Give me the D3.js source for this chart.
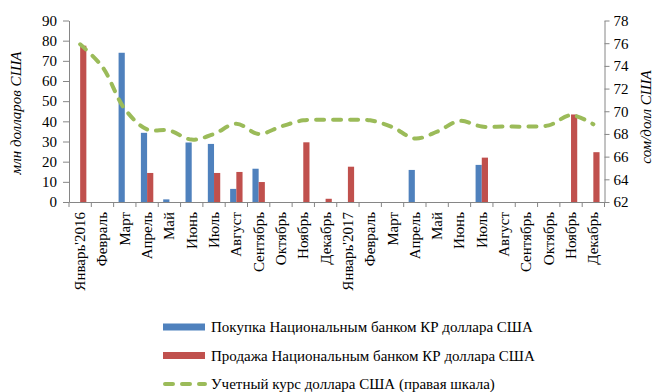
<!DOCTYPE html>
<html>
<head>
<meta charset="utf-8">
<script src="https://cdn.jsdelivr.net/npm/d3@7"></script>
<style>
  html, body { margin: 0; padding: 0; background: #fff; }
  svg { display: block; font-family: "Liberation Serif", "Times New Roman", serif; }
</style>
</head>
<body>
<svg id="chart" width="654" height="392"></svg>
<script>
// Monthly categories, Jan 2016 – Dec 2017
const months = [
  "Январь'2016", "Февраль", "Март", "Апрель", "Май", "Июнь", "Июль", "Август",
  "Сентябрь", "Октябрь", "Ноябрь", "Декабрь",
  "Январь'2017", "Февраль", "Март", "Апрель", "Май", "Июнь", "Июль", "Август",
  "Сентябрь", "Октябрь", "Ноябрь", "Декабрь"
];

// NBKR purchases of USD, mln USD
const purchases = [0, 0, 74, 34.3, 1.3, 29.5, 28.8, 6.5, 16.5, 0, 0, 0,
                   0, 0, 0, 15.9, 0, 0, 18.4, 0, 0, 0, 0, 0];

// NBKR sales of USD, mln USD
const sales = [77.5, 0, 0, 14.4, 0, 0, 14.4, 14.9, 9.9, 0, 29.6, 1.6,
               17.5, 0, 0, 0, 0, 0, 22.0, 0, 0, 0, 43.4, 24.7];

// Official USD rate, som per USD (right scale)
const rate = [75.9, 73.9, 70.2, 68.4, 68.3, 67.5, 68.0, 68.9, 68.0, 68.65, 69.2, 69.25,
              69.25, 69.2, 68.6, 67.6, 68.2, 69.15, 68.65, 68.65, 68.65, 68.75, 69.65, 68.85];

const leftTicks = [0, 10, 20, 30, 40, 50, 60, 70, 80, 90];
const rightTicks = [62, 64, 66, 68, 70, 72, 74, 76, 78];

const seriesNames = [
  "Покупка Национальным банком КР доллара США",
  "Продажа Национальным банком КР доллара США",
  "Учетный курс доллара США (правая шкала)"
];
const colors = { buy: "#4F81BD", sell: "#C0504D", rate: "#9BBB59" };

const svg = d3.select("#chart");
const plot = { left: 69, right: 604.5, top: 20.5, bottom: 202 };

const x0 = d3.scaleBand()
  .domain(d3.range(months.length))
  .range([plot.left, plot.right])
  .padding(0);

const x1 = d3.scaleBand()
  .domain(["buy", "sell"])
  .range([0, x0.bandwidth()])
  .paddingInner(0)
  .paddingOuter(0.8);

const yL = d3.scaleLinear().domain([0, 90]).range([plot.bottom, plot.top]);
const yR = d3.scaleLinear().domain([62, 78]).range([plot.bottom, plot.top]);

const axisColor = "#868686";

// Bars
const groups = svg.append("g").selectAll("g")
  .data(months.map((m, i) => ({ i, buy: purchases[i], sell: sales[i] })))
  .join("g")
  .attr("transform", d => `translate(${x0(d.i)},0)`);

groups.selectAll("rect")
  .data(d => ["buy", "sell"].map(k => ({ k, v: d[k] })).filter(e => e.v > 0))
  .join("rect")
  .attr("x", e => x1(e.k))
  .attr("width", x1.bandwidth())
  .attr("y", e => yL(e.v))
  .attr("height", e => yL(0) - yL(e.v))
  .attr("fill", e => colors[e.k]);

// Left axis
const gL = svg.append("g")
  .attr("transform", `translate(${plot.left},0)`)
  .call(d3.axisLeft(yL).tickValues(leftTicks).tickSize(6).tickPadding(6).tickSizeOuter(0));

// Right axis
const gR = svg.append("g")
  .attr("transform", `translate(${plot.right},0)`)
  .call(d3.axisRight(yR).tickValues(rightTicks).tickSize(5).tickPadding(4).tickSizeOuter(0));

// Bottom axis: ticks on category boundaries
const gB = svg.append("g")
  .attr("transform", `translate(0,${plot.bottom})`)
  .call(d3.axisBottom(x0).tickSize(0).tickFormat(i => months[i]));

gB.selectAll(".tick text")
  .attr("transform", "rotate(-90)")
  .attr("text-anchor", "end")
  .attr("dominant-baseline", "central")
  .attr("x", -10)
  .attr("y", 0)
  .attr("dy", null);

const boundaries = d3.range(months.length + 1).map(i => plot.left + i * x0.step());
gB.selectAll("line.bnd")
  .data(boundaries)
  .join("line")
  .attr("class", "bnd")
  .attr("x1", d => d).attr("x2", d => d)
  .attr("y1", 0).attr("y2", 5)
  .attr("stroke", axisColor);

[gL, gR, gB].forEach(g => {
  g.selectAll(".domain").attr("stroke", axisColor);
  g.selectAll(".tick line").attr("stroke", axisColor);
  g.selectAll(".tick text").attr("fill", "#000").style("font-size", "15px")
    .style("font-family", '"Liberation Serif", serif');
});

// Rate line (right scale)
const line = d3.line()
  .x((d, i) => x0(i) + x0.bandwidth() / 2)
  .y(d => yR(d))
  .curve(d3.curveCatmullRom.alpha(0.5));

svg.append("path")
  .datum(rate)
  .attr("d", line)
  .attr("fill", "none")
  .attr("stroke", colors.rate)
  .attr("stroke-width", 4)
  .attr("stroke-dasharray", "8 9")
  .attr("stroke-linecap", "round");

// Axis titles
svg.append("text")
  .attr("transform", "translate(21,113) rotate(-90)")
  .attr("text-anchor", "middle")
  .style("font-size", "15px")
  .style("font-style", "italic")
  .text("млн долларов США");

svg.append("text")
  .attr("transform", "translate(651,117) rotate(-90)")
  .attr("text-anchor", "middle")
  .style("font-size", "15px")
  .style("font-style", "italic")
  .text("сом/долл США");

// Legend
const legend = svg.append("g").attr("transform", "translate(163,0)");
const legendY = [327, 355.5, 384];
const keys = ["buy", "sell", "rate"];
keys.forEach((k, i) => {
  const row = legend.append("g").attr("transform", `translate(0,${legendY[i]})`);
  if (k === "rate") {
    row.append("line")
      .attr("x1", 2).attr("x2", 42).attr("y1", 0).attr("y2", 0)
      .attr("stroke", colors.rate).attr("stroke-width", 4)
      .attr("stroke-dasharray", "8 9").attr("stroke-linecap", "round");
  } else {
    row.append("rect")
      .attr("x", 0).attr("y", -3.5).attr("width", 42).attr("height", 7)
      .attr("fill", colors[k]);
  }
  row.append("text")
    .attr("x", 48).attr("y", 0)
    .attr("dominant-baseline", "central")
    .style("font-size", "15px")
    .text(seriesNames[i]);
});
</script>
</body>
</html>
